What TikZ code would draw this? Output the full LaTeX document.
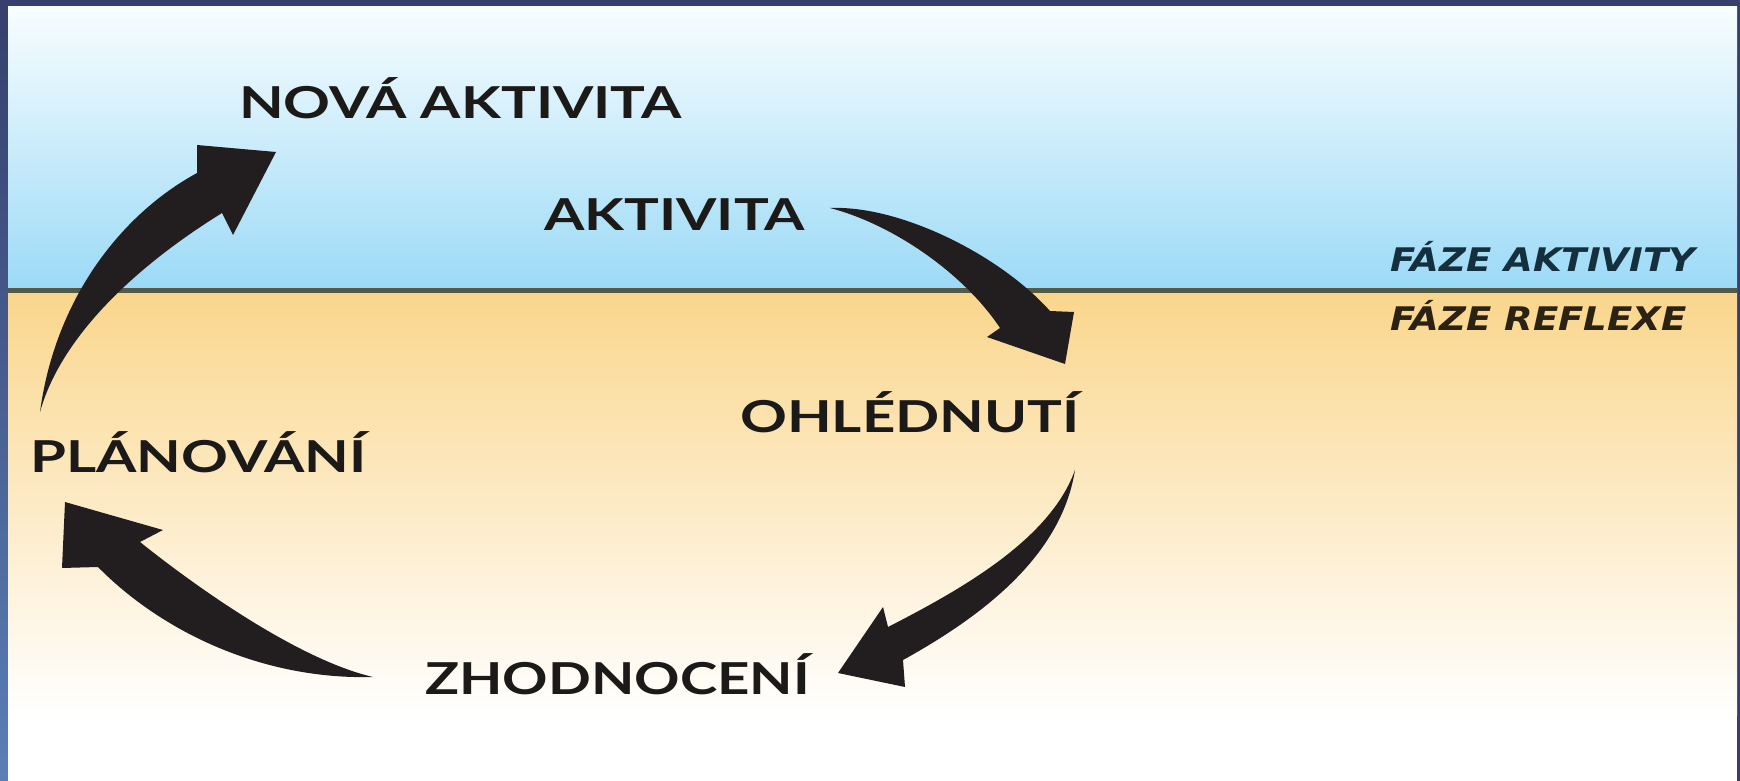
\documentclass[tikz,border=0pt]{standalone}
\usepackage{fontspec}
\setmainfont{Lato}
\newfontfamily\lblfont[FakeStretch=1.32]{Lato}
\newfontfamily\lblfontn[FakeStretch=1.28]{Lato}
\newfontfamily\phasefont[FakeStretch=1.14]{DejaVu Sans}
\definecolor{framec}{HTML}{363F6D}
\definecolor{frameleftbot}{HTML}{5A7FB6}
\definecolor{skytop}{HTML}{F8FDFF}
\definecolor{skybot}{HTML}{9CDAF6}
\definecolor{sandtop}{HTML}{FAD68C}
\definecolor{groundc}{HTML}{545A48}
\definecolor{arrowc}{HTML}{221E1F}
\definecolor{textc}{HTML}{1C1A18}
\definecolor{phaseup}{HTML}{14303E}
\definecolor{phasedown}{HTML}{2B2214}
\tikzset{
  lbl/.style={anchor=base west, inner sep=0pt, text=textc, font=\lblfont\fontsize{44}{50}\selectfont\bfseries},
  phaselbl/.style={anchor=base west, inner sep=0pt, font=\phasefont\fontsize{32.5}{38}\selectfont\bfseries\itshape},
  bigarrow/.style={fill=arrowc}
}
\begin{document}
\begin{tikzpicture}[x=1pt,y=-1pt]
\useasboundingbox (0,0) rectangle (1740,781);
% frame
\fill[framec] (0,0) rectangle (1740,781);
\shade[top color=framec, bottom color=frameleftbot] (0,7) rectangle (8,781);
% sky
\shade[top color=skytop, bottom color=skybot] (8,7) rectangle (1737,289);
% sand
\shade[top color=sandtop, bottom color=white] (8,291) rectangle (1737,715);
\fill[white] (8,714) rectangle (1737,781);
% ground line
\draw[line width=5pt, groundc] (8,290) -- (1737,290);

% labels
\node[lbl] (nova) at (239,119) {NOVÁ AKTIVITA};
\node[lbl] (akt) at (544,230) {AKTIVITA};
\node[lbl] (ohl) at (740,432) {OHLÉDNUTÍ};
\node[lbl] (plan) at (30,472) {PLÁNOVÁNÍ};
\node[lbl, font=\lblfontn\fontsize{44}{50}\selectfont\bfseries] (zhod) at (425,694) {ZHODNOCENÍ};
\node[phaselbl, text=phaseup] (fa) at (1390,271) {FÁZE AKTIVITY};
\node[phaselbl, text=phasedown] (fr) at (1390,330) {FÁZE REFLEXE};

% arrow AKTIVITA -> OHLEDNUTI
\fill[bigarrow] (830,208) .. controls (900,205) and (1000,255) .. (1050,311)
  -- (1074,312) -- (1065,364) -- (987,337) -- (1000,328)
  .. controls (965,275) and (895,225) .. cycle;
% arrow OHLEDNUTI -> ZHODNOCENI
\fill[bigarrow] (1075,470) .. controls (1050,540) and (960,590) .. (888,627)
  -- (883,607) -- (838,673) -- (905,687) -- (903,660)
  .. controls (990,612) and (1062,552) .. cycle;
% arrow ZHODNOCENI -> PLANOVANI
\fill[bigarrow] (373,677) .. controls (300,660) and (200,590) .. (140,542)
  -- (163,530) -- (65,502) -- (62,568) -- (98,567)
  .. controls (160,630) and (260,680) .. cycle;
% arrow PLANOVANI -> NOVA AKTIVITA
\fill[bigarrow] (40,412) .. controls (55,300) and (120,215) .. (197,173)
  -- (197,145) -- (276,152) -- (233,235) -- (222,213)
  .. controls (130,270) and (60,340) .. cycle;
\end{tikzpicture}
\end{document}
